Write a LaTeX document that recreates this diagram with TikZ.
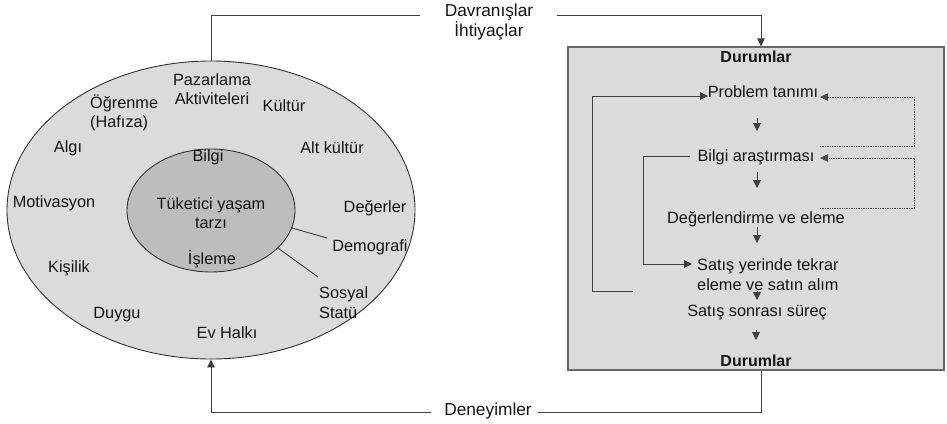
\documentclass[tikz,border=0pt]{standalone}
\usepackage{fontspec}
\setmainfont{Liberation Sans}
\usetikzlibrary{arrows.meta,shapes.geometric}
\begin{document}
\begin{tikzpicture}[x=1pt,y=-1pt,
  lbl/.style={font=\fontsize{16.3}{19.5}\selectfont, inner sep=0pt, align=center, text=black!92},
  lbll/.style={lbl, align=left},
  bold/.style={lbl, font=\fontsize{16}{19}\selectfont\bfseries},
  big/.style={lbl, font=\fontsize{17.3}{15}\selectfont},
  ln/.style={draw=black!75, line width=0.9pt},
  arr/.style={ln, -{Triangle[length=8pt,width=7.5pt]}},
  sarr/.style={ln, -{Triangle[length=8pt,width=8pt]}},
  dsh/.style={draw=black!70, line width=0.8pt, dash pattern=on 1.4pt off 1pt, -{Triangle[length=8pt,width=7.5pt]}},
]
\useasboundingbox (0,0) rectangle (947,423);
% left ellipses
\node[ellipse, draw=black!80, line width=0.9pt, fill=black!14, minimum width=408pt, minimum height=298pt, inner sep=0pt] (outer) at (211,210) {};
\node[ellipse, draw=black!80, line width=0.9pt, fill=black!26, minimum width=168pt, minimum height=123pt, inner sep=0pt] (inner) at (211,210.5) {};

\node[lbl] (paz) at (212,89) {Pazarlama\\Aktiviteleri};
\node[lbll, anchor=west] (ogr) at (90,113) {Öğrenme\\(Hafıza)};
\node[lbl] (kul) at (284,106) {Kültür};
\node[lbl] (alg) at (68,148) {Algı};
\node[lbl] (alt) at (332,148) {Alt kültür};
\node[lbl] (bil) at (208,157) {Bilgi};
\node[lbl] (mot) at (54,203) {Motivasyon};
\node[lbl] (tuk) at (211,213) {Tüketici yaşam\\tarzı};
\node[lbl] (deg) at (375,208) {Değerler};
\node[lbl] (dem) at (370,247) {Demografi};
\node[lbl] (isl) at (212,259) {İşleme};
\node[lbl] (kis) at (69,268) {Kişilik};
\node[lbll, anchor=west] (sos) at (319,302.5) {Sosyal\\Statü};
\node[lbl] (duy) at (117,315) {Duygu};
\node[lbl] (evh) at (227,333) {Ev Halkı};

\coordinate (demA) at (292,228);
\coordinate (demB) at (327,238);
\coordinate (sosA) at (278,248);
\coordinate (sosB) at (318,277);
\draw[ln] (demA) -- (demB);
\draw[ln] (sosA) -- (sosB);

% right box
\node[draw=black!60, line width=1.3pt, fill=black!14, minimum width=376pt, minimum height=323pt, inner sep=0pt] (box) at (756,208.5) {};
\node[bold] (dur1) at (756,57) {Durumlar};
\node[bold] (dur2) at (756,361) {Durumlar};
\node[lbl] (prob) at (763,92) {Problem tanımı};
\node[lbl] (bilg) at (756,157) {Bilgi araştırması};
\node[lbl] (degr) at (756,219) {Değerlendirme ve eleme};
\node[lbll, anchor=west] (sat) at (697,274.5) {Satış yerinde tekrar\\eleme ve satın alım};
\node[lbl] (sons) at (757,313) {Satış sonrası süreç};

% top and bottom labels
\node[big] (dav) at (489,22) {Davranışlar\\İhtiyaçlar};
\node[big] (den) at (488,411) {Deneyimler};

% top connector
\coordinate (t1) at (211,15);
\coordinate (t2) at (420,15);
\coordinate (t3) at (557,15);
\coordinate (t4) at (761,15);
\draw[ln] (outer.north) -- (t1) -- (t2);
\draw[arr] (t3) -- (t4) -- (t4 |- box.north);

% bottom connector
\coordinate (b1) at (761,412);
\coordinate (b2) at (538,412);
\coordinate (b3) at (431,412);
\coordinate (b4) at (211,412);
\draw[ln] (b1 |- box.south) -- (b1) -- (b2);
\draw[arr] (b3) -- (b4) -- (outer.south);

% down arrows
\foreach \ya/\yb/\xx in {118/131/757, 172/188/757, 227/243/757, 291/300/757, 330/340/756}{
  \coordinate (da) at (\xx,\ya);
  \coordinate (db) at (\xx,\yb);
  \draw[sarr] (da) -- (db);
}

% solid feedback loops
\coordinate (s1) at (633,291);
\coordinate (s2) at (592,291);
\coordinate (s3) at (592,96);
\coordinate (s4) at (708,96);
\draw[arr] (s1) -- (s2) -- (s3) -- (s4);
\coordinate (i1) at (690,156);
\coordinate (i2) at (643,156);
\coordinate (i3) at (643,264);
\coordinate (i4) at (692,264);
\draw[arr] (i1) -- (i2) -- (i3) -- (i4);

% dashed feedback loops
\coordinate (d1) at (820,146);
\coordinate (d2) at (914,146);
\coordinate (d3) at (914,97);
\coordinate (d4) at (820,97);
\draw[dsh] (d1) -- (d2) -- (d3) -- (d4);
\coordinate (e1) at (820,208);
\coordinate (e2) at (914,208);
\coordinate (e3) at (914,158);
\coordinate (e4) at (820,158);
\draw[dsh] (e1) -- (e2) -- (e3) -- (e4);
\end{tikzpicture}
\end{document}
